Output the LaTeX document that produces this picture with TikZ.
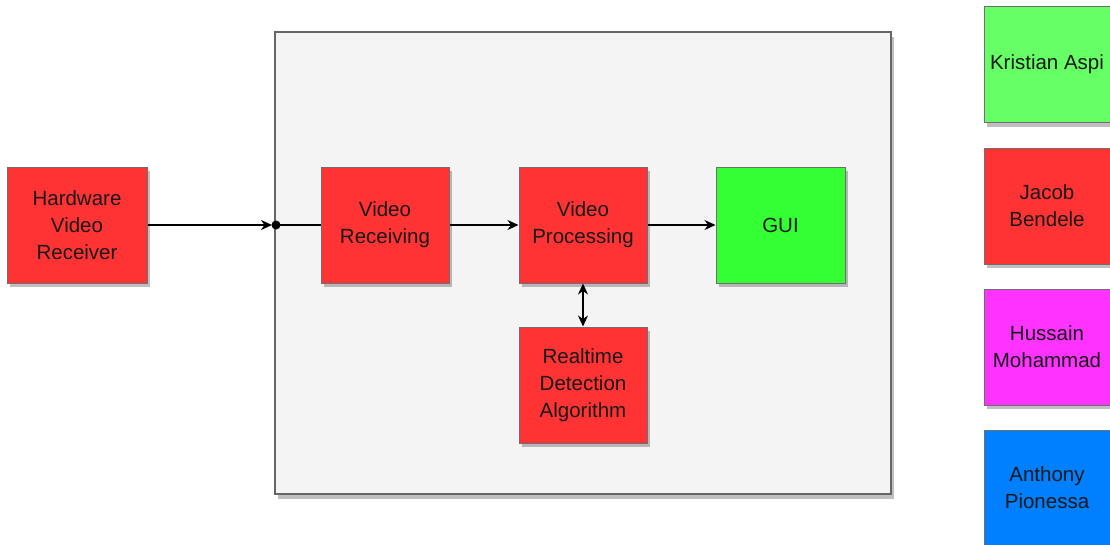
\documentclass[tikz,border=0pt]{standalone}
\usepackage{fontspec}
\setmainfont{Liberation Sans}
\usetikzlibrary{arrows.meta,shadows}
\definecolor{bred}{HTML}{FF3333}
\definecolor{bgreen}{HTML}{33FF33}
\definecolor{lgreen}{HTML}{66FF66}
\definecolor{bmag}{HTML}{FF33FF}
\definecolor{bblue}{HTML}{007FFF}
\definecolor{bgpanel}{HTML}{F4F4F4}
\definecolor{edge}{HTML}{6E6E6E}
\tikzset{
  shad/.style={drop shadow={shadow xshift=3pt,shadow yshift=-4pt,fill=black,opacity=0.25}},
  blk/.style={draw=edge,line width=1pt,minimum width=128pt,minimum height=116pt,inner sep=0pt,
    align=center,font=\fontsize{20.5}{27}\selectfont,text=black!90,shad},
  tip/.style={Stealth[length=11pt,width=10pt,inset=3.5pt]},
  conn/.style={line width=1.3pt,-{Stealth[length=11pt,width=10pt,inset=3.5pt]}}
}
\begin{document}
\begin{tikzpicture}[x=1pt,y=-1pt]
\useasboundingbox[fill=white] (0,0) rectangle (1110,544);
\begin{scope}
\clip (0,0) rectangle (1110,544);
\node[draw=gray!80!black,line width=1.2pt,fill=bgpanel,minimum width=616pt,minimum height=462pt,inner sep=0pt,
  drop shadow={shadow xshift=3pt,shadow yshift=-5pt,fill=black,opacity=0.25}] (panel) at (583,263) {};
\node[blk,fill=bred,minimum width=140pt] (hw) at (77,225) {Hardware\\Video\\Receiver};
\node[blk,fill=bred] (vr) at (385,225) {Video\\Receiving};
\node[blk,fill=bred] (vp) at (583,225) {Video\\Processing};
\node[blk,fill=bgreen,minimum width=129pt] (gui) at (780.5,225) {GUI};
\node[blk,fill=bred] (rt) at (583,385) {Realtime\\Detection\\Algorithm};
\node[blk,fill=lgreen,minimum width=126pt] (k) at (1047,64.5) {Kristian Aspi};
\node[blk,fill=bred,minimum width=126pt] (j) at (1047,206) {Jacob\\Bendele};
\node[blk,fill=bmag,minimum width=126pt] (h) at (1047,347) {Hussain\\Mohammad};
\node[blk,fill=bblue,minimum width=126pt] (a) at (1047,488) {Anthony\\Pionessa};
\end{scope}
\coordinate (dot) at (276,225);
\fill[black] (dot) circle (4.5pt);
\draw[conn,shorten >=4pt] (hw.east) -- (dot);
\draw[line width=2.2pt] (dot) -- (vr.west);
\draw[conn] (vr.east) -- (vp.west);
\draw[conn] (vp.east) -- (gui.west);
\draw[line width=1.3pt,{Stealth[length=11pt,width=10pt,inset=3.5pt]}-{Stealth[length=11pt,width=10pt,inset=3.5pt]}] (vp.south) -- (rt.north);
\end{tikzpicture}
\end{document}
